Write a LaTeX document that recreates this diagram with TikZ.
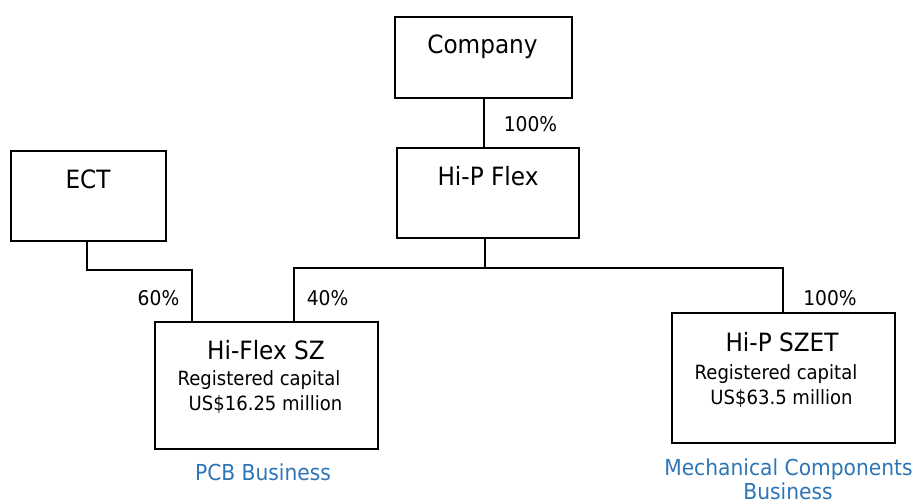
\documentclass[tikz,border=0pt]{standalone}
\usepackage{fontspec}
\setmainfont{DejaVu Sans}[FakeStretch=0.92]
\definecolor{bizblue}{RGB}{46,117,182}
\begin{document}
\begin{tikzpicture}[x=1pt,y=-1pt,
  entity/.style={draw,line width=1.6pt,inner sep=0pt,minimum width=#1},
  link/.style={line width=1.4pt},
  title/.style={anchor=base,inner sep=0pt,font=\fontsize{25.2}{29}\selectfont},
  detail/.style={anchor=base,inner sep=0pt,font=\fontsize{19.6}{23}\selectfont},
  share/.style={anchor=base,inner sep=0pt,font=\fontsize{20.3}{24}\selectfont},
  business/.style={anchor=base,inner sep=0pt,text=bizblue,font=\fontsize{22}{26}\selectfont}]
\useasboundingbox (0,0) rectangle (917,503);

% entity boxes
\node[entity=177pt,minimum height=81pt] (company) at (483.5,57.5) {};
\node[entity=182pt,minimum height=90pt] (hpflex) at (488,193) {};
\node[entity=155pt,minimum height=90pt] (ect) at (88.5,196) {};
\node[entity=223pt,minimum height=127pt] (hfsz) at (266.5,385.5) {};
\node[entity=223pt,minimum height=130pt] (szet) at (783.5,378) {};

% box titles and details
\node[title] (tcompany) at (482.5,54) {Company};
\node[title] (thpflex) at (488,185) {Hi-P Flex};
\node[title] (tect) at (88,188) {ECT};
\node[title] (thfsz) at (266,359) {Hi-Flex SZ};
\node[detail] (rhfsz) at (259,385) {Registered capital};
\node[detail] (chfsz) at (265.5,410) {US\$16.25 million};
\node[title] (tszet) at (782,351) {Hi-P SZET};
\node[detail] (rszet) at (776,379) {Registered capital};
\node[detail] (cszet) at (781.5,404) {US\$63.5 million};

% business captions
\node[business] (pcb) at (263,480) {PCB Business};
\node[business] (mech1) at (788.5,475) {Mechanical Components};
\node[business] (mech2) at (788,499.5) {Business};

% shareholding percentages
\node[share] (p100a) at (530.5,131) {100\%};
\node[share] (p60) at (158.5,305) {60\%};
\node[share] (p40) at (327.5,305) {40\%};
\node[share] (p100b) at (830,305) {100\%};

% connectors
\coordinate (junction) at (485,268);
\coordinate (busleft) at (294,268);
\coordinate (busright) at (783,268);
\coordinate (ectbend) at (192,270);

\draw[link] (company.south -| 484,0) -- (hpflex.north -| 484,0);
\draw[link] (hpflex.south -| junction) -- (junction);
\draw[link] (hfsz.north -| busleft) -- (busleft) -- (busright) -- (szet.north -| busright);
\draw[link] (ect.south -| 87,0) |- (ectbend) -- (ectbend |- hfsz.north);
\end{tikzpicture}
\end{document}
